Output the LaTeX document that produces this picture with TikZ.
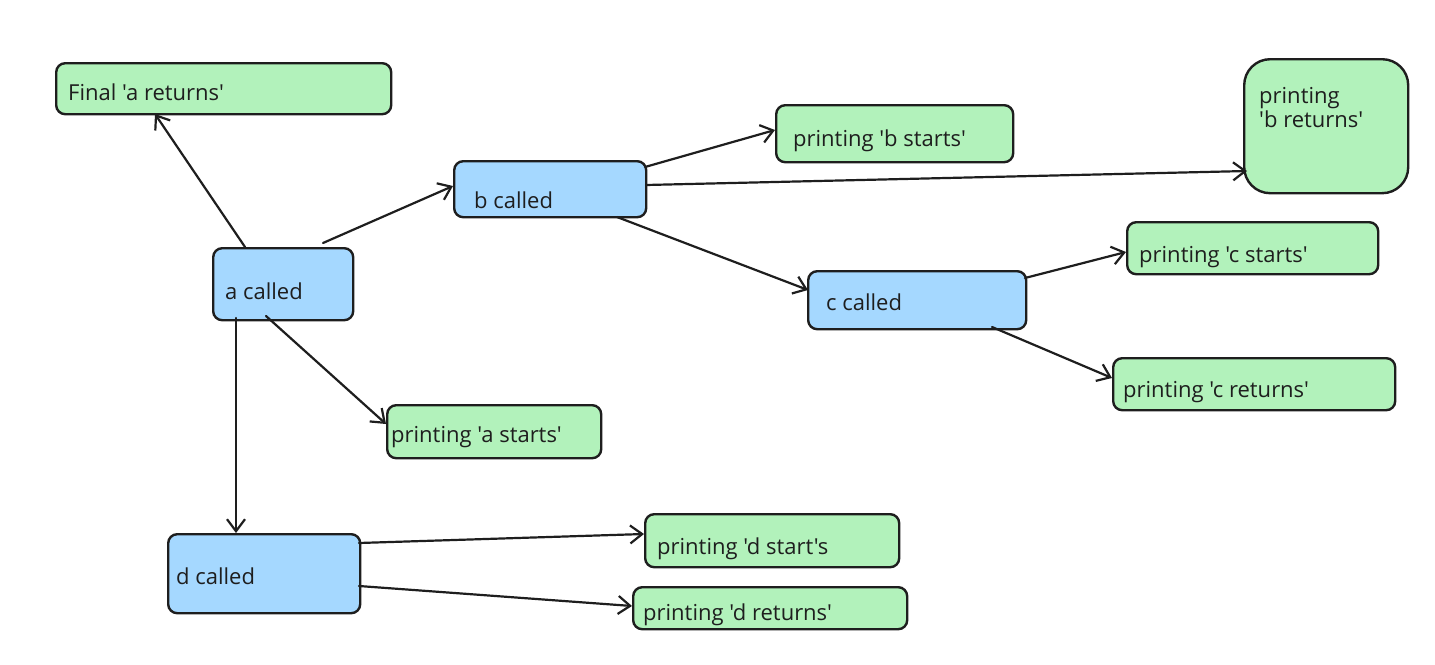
\documentclass[tikz,border=0pt]{standalone}
\usepackage{fontspec}
\setmainfont{Open Sans}[Ligatures=TeXOff]
\usetikzlibrary{arrows.meta}
\definecolor{ink}{HTML}{1E1E1E}
\definecolor{callfill}{HTML}{A5D8FF}
\definecolor{printfill}{HTML}{B2F2BB}
\tikzset{
  boxbase/.style={draw=ink, line width=2.4pt, anchor=north west, inner sep=0pt, rounded corners=9pt},
  callbox/.style={boxbase, fill=callfill},
  printbox/.style={boxbase, fill=printfill},
  lbl/.style={anchor=base west, inner sep=0pt, text=ink, font=\fontsize{22}{24}\selectfont, align=left},
  link/.style={draw=ink, line width=2.2pt, line cap=round,
    -{Straight Barb[length=12pt,width=18pt,line width=2.2pt]}},
}
\begin{document}
\begin{tikzpicture}[x=1pt,y=-1pt]
\useasboundingbox (0,0) rectangle (1435,664);

% boxes
\node[printbox, minimum width=335pt, minimum height=51pt] (fa) at (55,62) {};
\node[printbox, minimum width=164pt, minimum height=134pt, rounded corners=26pt] (br) at (1243,58) {};
\node[printbox, minimum width=237pt, minimum height=57pt] (bs) at (775,104) {};
\node[callbox, minimum width=192pt, minimum height=56pt] (b) at (453,160) {};
\node[callbox, minimum width=140pt, minimum height=72pt] (a) at (212,247) {};
\node[printbox, minimum width=251pt, minimum height=52pt] (cs) at (1126,221) {};
\node[callbox, minimum width=218pt, minimum height=58pt] (c) at (807,270) {};
\node[printbox, minimum width=282pt, minimum height=52pt] (cr) at (1112,357) {};
\node[printbox, minimum width=214pt, minimum height=53pt] (as) at (386,404) {};
\node[callbox, minimum width=192pt, minimum height=79pt] (d) at (167,533) {};
\node[printbox, minimum width=254pt, minimum height=53pt] (ds) at (644,513) {};
\node[printbox, minimum width=274pt, minimum height=42pt] (dr) at (632,586) {};

% labels
\node[lbl] (fa-t) at (68,100) {Final 'a returns'};
\node[lbl] (br-t) at (1259,127) {printing\\'b returns'};
\node[lbl] (bs-t) at (793,146) {printing 'b starts'};
\node[lbl] (b-t) at (474,208) {b called};
\node[lbl] (a-t) at (225,299) {a called};
\node[lbl] (cs-t) at (1139,262) {printing 'c starts'};
\node[lbl] (c-t) at (826,310) {c called};
\node[lbl] (cr-t) at (1123,397) {printing 'c returns'};
\node[lbl] (as-t) at (391,442) {printing 'a starts'};
\node[lbl] (d-t) at (176,584) {d called};
\node[lbl] (ds-t) at (657,554) {printing 'd start's};
\node[lbl] (dr-t) at (643,620) {printing 'd returns'};

% connectors
\draw[link] ([shift={(33,0)}]a.north west) -- ([shift={(100,52)}]fa.north west);
\draw[link] ([shift={(111,-4)}]a.north west) -- ([shift={(0,26)}]b.north west);
\draw[link] ([shift={(192,7)}]b.north west) -- ([shift={(0,26)}]bs.north west);
\draw[link] ([shift={(193,25)}]b.north west) -- ([shift={(4,113)}]br.north west);
\draw[link] ([shift={(164,57)}]b.north west) -- ([shift={(1,20)}]c.north west);
\draw[link] ([shift={(218,8)}]c.north west) -- ([shift={(0,31)}]cs.north west);
\draw[link] ([shift={(185,57)}]c.north west) -- ([shift={(0,21)}]cr.north west);
\draw[link] ([shift={(54,69)}]a.north west) -- ([shift={(0,20)}]as.north west);
\draw[link] ([shift={(24,71)}]a.north west) -- ([shift={(69,0)}]d.north west);
\draw[link] ([shift={(192,10)}]d.north west) -- ([shift={(0,21)}]ds.north west);
\draw[link] ([shift={(192,53)}]d.north west) -- ([shift={(0,20)}]dr.north west);
\end{tikzpicture}
\end{document}
